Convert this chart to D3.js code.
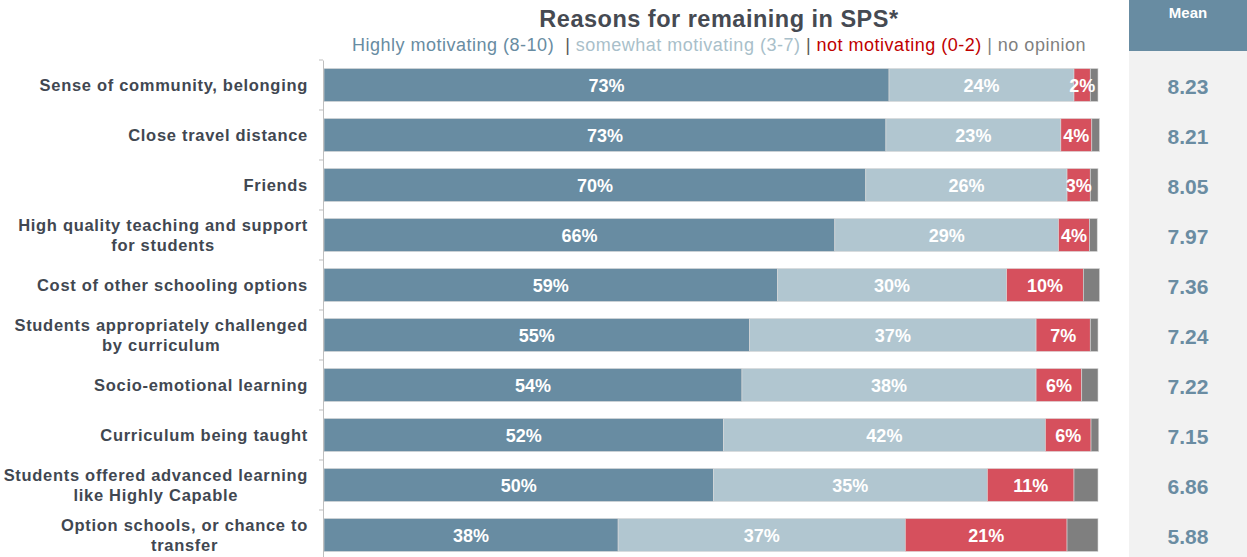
<!DOCTYPE html>
<html><head><meta charset="utf-8">
<script src="https://cdn.jsdelivr.net/npm/d3@7"></script>
<style>body{margin:0;background:#fff;font-family:"Liberation Sans",Arial,sans-serif;}</style>
</head><body><svg id="c" width="1247" height="557"></svg>
<script>
const categories = [
  ["Sense of community, belonging"],
  ["Close travel distance"],
  ["Friends"],
  ["High quality teaching and support", "for students"],
  ["Cost of other schooling options"],
  ["Students appropriately challenged", "by curriculum"],
  ["Socio-emotional learning"],
  ["Curriculum being taught"],
  ["Students offered advanced learning", "like Highly Capable"],
  ["Option schools, or chance to", "transfer"]
];
const highly   = [73.0, 72.6, 70.0, 66.0, 58.6, 55.0, 54.0, 51.6, 50.3, 38.0];
const somewhat = [23.9, 22.6, 26.0, 28.9, 29.6, 37.0, 38.0, 41.6, 35.4, 37.1];
const notMot   = [2.1, 4.0, 3.0, 4.0, 9.9, 7.0, 5.9, 5.9, 11.2, 20.9];
const noOpin   = [1.0, 1.0, 1.0, 1.0, 2.1, 1.0, 2.1, 1.0, 3.1, 4.0];
const means    = ["8.23","8.21","8.05","7.97","7.36","7.24","7.22","7.15","6.86","5.88"];
const seriesNames = ["Highly motivating (8-10)","somewhat motivating (3-7)","not motivating (0-2)","no opinion"];

const colors = ["#688ca2","#b1c6d0","#d6505d","#7f7f7f"];
const svg = d3.select("#c");
const font = "'Liberation Sans', Arial, sans-serif";

const x = d3.scaleLinear().domain([0,100]).range([324,1098]);
const y = d3.scaleBand().domain(d3.range(categories.length)).range([60,560]).paddingInner(0.34).paddingOuter(0.17);

// Mean column
svg.append("rect").attr("x",1129).attr("y",50).attr("width",118).attr("height",507).attr("fill","#f2f2f2");
svg.append("rect").attr("x",1129).attr("y",0).attr("width",118).attr("height",51).attr("fill","#688ca2");
svg.append("text").attr("x",1188).attr("y",18).attr("text-anchor","middle").attr("font-family",font)
  .attr("font-weight","bold").attr("font-size",15).attr("fill","#fff").text("Mean");

// title
svg.append("text").attr("x",719).attr("y",27).attr("text-anchor","middle").attr("font-family",font)
  .attr("font-weight","bold").attr("font-size",23.5).attr("letter-spacing",0.5).attr("fill","#464a52").text("Reasons for remaining in SPS*");
const leg = svg.append("text").attr("x",719).attr("y",51).attr("text-anchor","middle").attr("font-family",font)
  .attr("font-size",18).attr("letter-spacing",0.5).attr("xml:space","preserve");
leg.append("tspan").attr("fill","#688ca2").text(seriesNames[0] + "  ");
leg.append("tspan").attr("fill","#595959").text("| ");
leg.append("tspan").attr("fill","#a9bfca").text(seriesNames[1]);
leg.append("tspan").attr("fill","#595959").text(" | ");
leg.append("tspan").attr("fill","#c00000").text(seriesNames[2]);
leg.append("tspan").attr("fill","#7f7f7f").text(" | " + seriesNames[3]);

// data rows
const rows = categories.map((c,i)=>({i, vals:[highly[i],somewhat[i],notMot[i],noOpin[i]]}));
const stacked = rows.map(r=>{let acc=0; return r.vals.map((v,k)=>{const s={i:r.i,k,v,x0:acc,x1:acc+v}; acc+=v; return s;});}).flat();

svg.append("g").selectAll("rect").data(stacked).join("rect")
  .attr("x",d=>x(d.x0)).attr("y",d=>y(d.i)).attr("width",d=>x(d.x1)-x(d.x0)).attr("height",y.bandwidth())
  .attr("fill",d=>colors[d.k]).attr("stroke","#d9d9d9").attr("stroke-width",0.6);

svg.append("g").selectAll("text").data(stacked.filter(d=>d.k<3)).join("text")
  .attr("x",d=>(x(d.x0)+x(d.x1))/2).attr("y",d=>y(d.i)+y.bandwidth()/2+6.5)
  .attr("text-anchor","middle").attr("font-family",font).attr("font-weight","bold").attr("font-size",18)
  .attr("fill","#fff").text(d=>Math.round(d.v)+"%");

// axis
const ax = svg.append("g").attr("transform","translate(323,0)")
  .call(d3.axisLeft(y).tickSize(0).tickFormat(""));
ax.select(".domain").attr("stroke","#bfbfbf");
const bounds = d3.range(categories.length).map(i=>y(i)-y.step()*y.paddingInner()/2);
ax.selectAll(".sep").data(bounds.slice(0)).join("line").attr("class","sep")
  .attr("x1",-4).attr("x2",0).attr("y1",d=>d).attr("y2",d=>d).attr("stroke","#bfbfbf");

// category labels
const labFs = 16.5, labLs = 0.7;
categories.forEach((lines,i)=>{
  const cy = y(i)+y.bandwidth()/2;
  const t = svg.append("text").attr("font-family",font).attr("font-weight","bold").attr("font-size",labFs)
    .attr("letter-spacing",labLs).attr("fill","#414751");
  if(lines.length===1){
    t.attr("x",308).attr("y",cy+6).attr("text-anchor","end").text(lines[0]);
  } else {
    const tmp = svg.append("text").attr("font-family",font).attr("font-weight","bold").attr("font-size",labFs)
      .attr("letter-spacing",labLs).text(lines[0]);
    const w = tmp.node().getComputedTextLength(); tmp.remove();
    const cx = 308 - w/2;
    t.attr("text-anchor","middle");
    lines.forEach((l,j)=>t.append("tspan").attr("x",cx).attr("y",cy - 4 + j*20).text(l));
  }
});

// means
svg.append("g").selectAll("text").data(means).join("text")
  .attr("x",1188).attr("y",(d,i)=>y(i)+y.bandwidth()/2+9).attr("text-anchor","middle")
  .attr("font-family",font).attr("font-weight","bold").attr("font-size",21).attr("fill","#6a8ca2").text(d=>d);
</script></body></html>
